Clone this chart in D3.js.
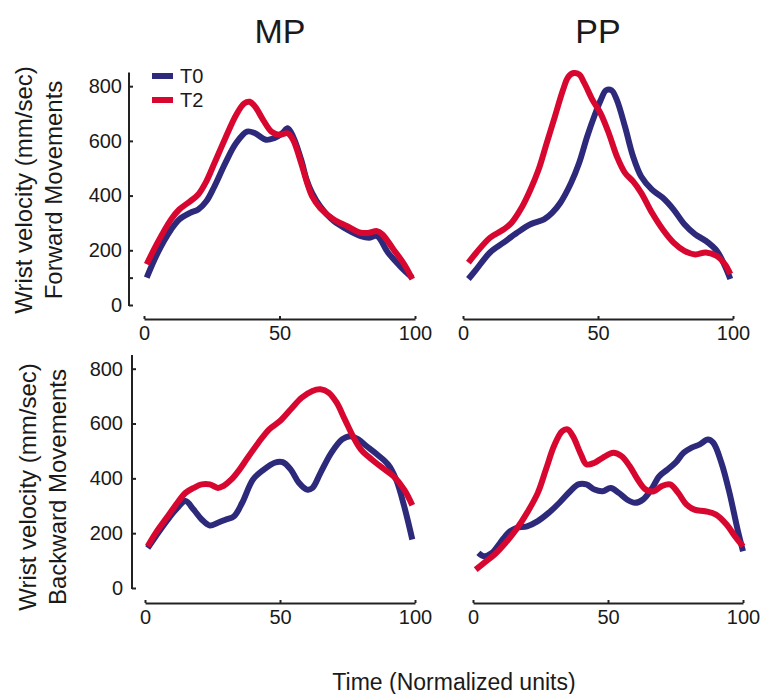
<!DOCTYPE html>
<html>
<head>
<meta charset="utf-8">
<script src="https://cdn.jsdelivr.net/npm/d3@7"></script>
<style>
  body { margin: 0; background: #fff; }
  svg text { font-family: "Liberation Sans", Arial, Helvetica, sans-serif; fill: #1a1a1a; }
</style>
</head>
<body>
<svg id="chart" width="762" height="694"></svg>
<script>
// column titles, row labels, legend
const columns = ["MP", "PP"];
const rowLabels = ["Forward Movements", "Backward Movements"];
const seriesNames = ["T0", "T2"];
const yTicks = [0, 200, 400, 600, 800];
const xTicks = [0, 50, 100];

// [time (normalized), wrist velocity (mm/sec)]
const mpFwdT0 = [[1,100],[5,190],[10,276],[13,313],[17,337],[20,349],[23,379],[26,434],[30,519],[34,592],[38,634],[41,628],[45,604],[48,610],[51,628],[53,646],[55,616],[58,531],[60,458],[62,410],[65,361],[70,307],[75,276],[80,252],[83,246],[86,252],[90,192],[95,137],[99,100]];
const mpFwdT2 = [[1,149],[5,228],[10,313],[13,349],[17,379],[20,404],[23,452],[26,519],[30,610],[34,695],[37,737],[39,743],[41,725],[44,676],[47,634],[50,622],[53,628],[55,604],[58,519],[60,452],[62,398],[65,355],[70,313],[75,288],[80,264],[83,264],[86,270],[88,258],[92,204],[96,149],[99,95]];
const ppFwdT0 = [[2,95],[5,131],[10,192],[15,228],[20,264],[25,295],[30,313],[33,337],[36,373],[40,446],[43,519],[46,616],[49,700],[51,749],[53,785],[55,785],[57,749],[60,652],[63,543],[66,470],[70,422],[74,392],[78,349],[82,295],[86,258],[90,234],[94,198],[97,143],[99,95]];
const ppFwdT2 = [[2,155],[5,192],[10,246],[15,276],[18,301],[22,361],[25,422],[28,495],[31,592],[34,688],[37,785],[39,834],[41,848],[43,843],[45,810],[48,749],[51,700],[54,628],[57,543],[60,483],[63,452],[66,410],[70,337],[74,276],[78,228],[82,198],[86,185],[90,192],[94,179],[97,149],[99,113]];
const mpBwdT0 = [[1,146],[4,189],[8,244],[12,292],[15,317],[18,286],[21,250],[24,228],[27,238],[30,250],[33,262],[36,311],[40,396],[44,432],[48,457],[51,459],[54,432],[57,384],[60,359],[62,365],[65,420],[69,493],[73,542],[76,554],[79,542],[82,518],[86,487],[90,451],[93,396],[96,298],[99,177]];
const mpBwdT2 = [[1,152],[4,201],[8,256],[12,311],[15,347],[18,365],[21,378],[24,378],[27,365],[29,372],[32,396],[35,432],[38,475],[42,530],[46,579],[50,609],[54,652],[58,694],[62,719],[65,725],[68,713],[71,676],[74,615],[77,554],[80,505],[84,469],[88,438],[92,408],[96,359],[99,302]];
const ppBwdT0 = [[2,128],[4,116],[7,128],[10,164],[13,201],[16,219],[20,225],[24,244],[28,274],[32,311],[36,353],[39,378],[42,378],[45,359],[48,353],[51,365],[54,347],[57,323],[60,311],[63,323],[66,359],[69,408],[72,432],[75,457],[78,493],[81,512],[84,524],[87,542],[89,530],[92,457],[95,347],[98,213],[100,134]];
const ppBwdT2 = [[1,67],[4,91],[8,122],[12,164],[16,213],[20,274],[24,347],[27,432],[30,518],[33,572],[35,579],[37,554],[40,487],[42,451],[45,457],[48,475],[52,493],[55,481],[58,445],[61,396],[64,359],[67,353],[70,372],[73,378],[76,347],[79,305],[82,286],[86,280],[90,268],[94,231],[97,189],[100,152]];

const colors = { T0: "#2d2a7b", T2: "#d80730" };

const panels = [
  { col: 0, row: 0, x0: 144, x1: 415, yBase: 305, yTop: 72.5, axisY: 319, yAxisX: 129, yTickVals: [0, 100, 200, 400, 600, 800], series: [mpFwdT0, mpFwdT2] },
  { col: 1, row: 0, x0: 463, x1: 733, yBase: 305, yTop: 72.5, axisY: 319, series: [ppFwdT0, ppFwdT2] },
  { col: 0, row: 1, x0: 145, x1: 415, yBase: 588, yTop: 355, axisY: 603, yAxisX: 132, yTickVals: yTicks, series: [mpBwdT0, mpBwdT2] },
  { col: 1, row: 1, x0: 473, x1: 743, yBase: 588, yTop: 355, axisY: 603, series: [ppBwdT0, ppBwdT2] }
];

const svg = d3.select("#chart");

panels.forEach(p => {
  const x = d3.scaleLinear().domain([0, 100]).range([p.x0, p.x1]);
  const y = d3.scaleLinear().domain([0, 850]).range([p.yBase, p.yTop]);

  // x axis
  const gx = svg.append("g")
      .attr("transform", `translate(0,${p.axisY})`)
      .call(d3.axisBottom(x).tickValues(xTicks).tickSize(-3).tickSizeOuter(0).tickPadding(7));
  gx.selectAll("text").style("font-size", "20px");

  // y axis, only on left column
  if (p.yAxisX) {
    const gy = svg.append("g")
        .attr("transform", `translate(${p.yAxisX},0)`)
        .call(d3.axisLeft(y).tickValues(p.yTickVals).tickSize(-4).tickSizeOuter(0)
            .tickPadding(p.row === 0 ? 7 : 9)
            .tickFormat(d => d === 100 ? "" : d));
    gy.selectAll("text").style("font-size", "20px");
    gy.select(".domain").attr("d", `M0,${y(0) + 1}V${y(850)}`);
  }

  svg.selectAll(".domain, .tick line").attr("stroke", "#222").attr("stroke-width", 2);

  const line = d3.line()
      .x(d => x(d[0]))
      .y(d => y(d[1]))
      .curve(d3.curveCatmullRom.alpha(0.5));

  p.series.forEach((s, i) => {
    svg.append("path")
        .datum(s)
        .attr("fill", "none")
        .attr("stroke", colors[seriesNames[i]])
        .attr("stroke-width", 6)
        .attr("stroke-linejoin", "round")
        .attr("d", line);
  });
});

// column titles
svg.selectAll(".col-title")
  .data(columns)
  .enter()
  .append("text")
    .attr("class", "col-title")
    .attr("x", (d, i) => i === 0 ? 280 : 598)
    .attr("y", 43)
    .attr("text-anchor", "middle")
    .style("font-size", "34px")
    .text(d => d);

// row labels
rowLabels.forEach((lab, i) => {
  const cy = i === 0 ? 190 : 487;
  svg.append("text")
      .attr("transform", `translate(${i === 0 ? 32 : 36},${cy}) rotate(-90)`)
      .attr("text-anchor", "middle")
      .style("font-size", "24px")
      .text("Wrist velocity (mm/sec)");
  svg.append("text")
      .attr("transform", `translate(${i === 0 ? 62 : 66},${cy}) rotate(-90)`)
      .attr("text-anchor", "middle")
      .style("font-size", "24px")
      .text(lab);
});

// x axis title
svg.append("text")
    .attr("x", 454)
    .attr("y", 690)
    .attr("text-anchor", "middle")
    .style("font-size", "23px")
    .text("Time (Normalized units)");

// legend
const legend = svg.append("g").attr("transform", "translate(152,76)");
seriesNames.forEach((name, i) => {
  legend.append("line")
      .attr("x1", 0).attr("x2", 21)
      .attr("y1", i * 24).attr("y2", i * 24)
      .attr("stroke", colors[name])
      .attr("stroke-width", 6);
  legend.append("text")
      .attr("x", 28)
      .attr("y", i * 24)
      .attr("dy", "0.35em")
      .style("font-size", "20px")
      .text(name);
});
</script>
</body>
</html>
